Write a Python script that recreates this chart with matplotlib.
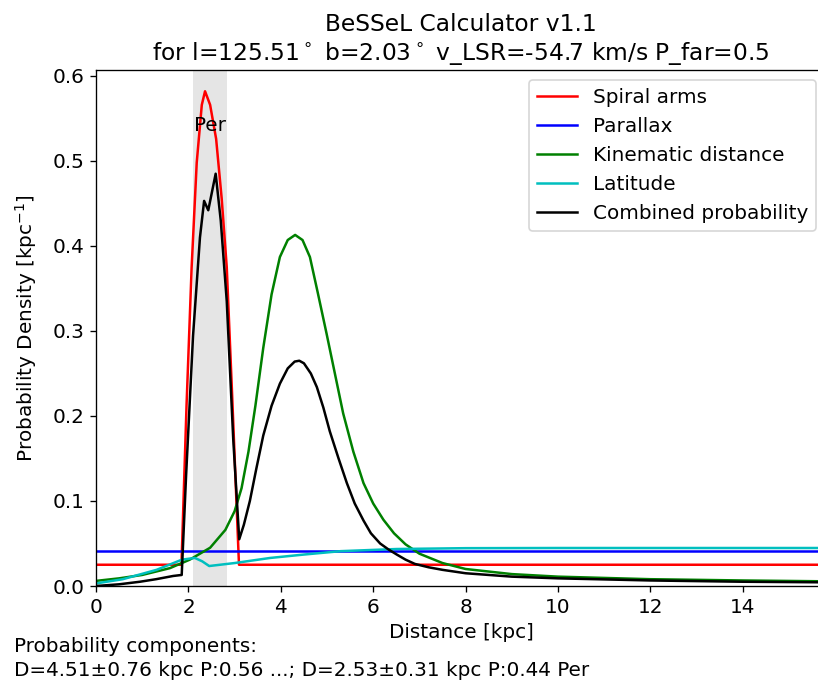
import matplotlib
matplotlib.use('Agg')
import matplotlib.pyplot as plt

plt.rcParams['font.size'] = 12

# Distancias [kpc] y densidades
arm_x = [0.0, 1.85, 1.96, 2.07, 2.18, 2.29, 2.36, 2.47, 2.60, 2.72, 2.83, 2.94, 3.045, 3.095, 15.8]
arm_y = [0.025, 0.025, 0.213, 0.375, 0.498, 0.566, 0.582, 0.566, 0.526, 0.456, 0.375, 0.233, 0.092, 0.025, 0.025]

plx_x = [0.0, 15.8]
plx_y = [0.0412, 0.0412]

kin_x = [0.0, 0.5, 1.0, 1.6, 2.03, 2.47, 2.8, 3.0, 3.15, 3.3, 3.45, 3.62, 3.8, 3.98, 4.15,
         4.31, 4.47, 4.63, 4.8, 4.99, 5.17, 5.35, 5.57, 5.79, 6.0, 6.22, 6.45, 6.7, 7.0, 7.5,
         8.0, 9.0, 10.0, 12.0, 14.0, 15.8]
kin_y = [0.006, 0.009, 0.013, 0.021, 0.031, 0.045, 0.066, 0.088, 0.115, 0.158, 0.212, 0.28,
         0.343, 0.387, 0.407, 0.413, 0.407, 0.387, 0.345, 0.297, 0.25, 0.203, 0.158, 0.121, 0.097,
         0.078, 0.062, 0.049, 0.038, 0.027, 0.020, 0.014, 0.011, 0.008, 0.0065, 0.0055]

lat_x = [0.0, 0.58, 1.31, 1.86, 2.14, 2.30, 2.45, 3.0, 3.77, 4.5, 5.3, 6.5, 8.0, 10.0, 15.8]
lat_y = [0.003, 0.008, 0.019, 0.031, 0.033, 0.029, 0.0235, 0.027, 0.033, 0.037, 0.041, 0.0435, 0.0445, 0.0447, 0.0447]

comb_x = [0.0, 0.5, 0.95, 1.3, 1.67, 1.855, 1.95, 2.1, 2.25, 2.34, 2.43, 2.59, 2.7, 2.83, 2.97, 3.1,
          3.2, 3.33, 3.47, 3.62, 3.8, 3.98, 4.15, 4.3, 4.4, 4.5, 4.65, 4.78, 4.92, 5.06, 5.25,
          5.43, 5.6, 5.79, 5.95, 6.15, 6.33, 6.51, 6.7, 6.9, 7.2, 7.5, 8.0, 9.0, 10.0, 12.0, 14.0, 15.8]
comb_y = [0.0, 0.002, 0.005, 0.008, 0.0118, 0.013, 0.13, 0.294, 0.41, 0.453, 0.442, 0.485, 0.43,
          0.335, 0.173, 0.055, 0.072, 0.1, 0.138, 0.177, 0.212, 0.238, 0.256, 0.264, 0.265, 0.262,
          0.25, 0.234, 0.21, 0.182, 0.15, 0.121, 0.097, 0.077, 0.062, 0.05, 0.043, 0.037, 0.031,
          0.026, 0.022, 0.019, 0.015, 0.011, 0.009, 0.0065, 0.005, 0.0043]

arm_name = 'Per'
arm_range = (2.10, 2.84)

# Crear la figura y los ejes
fig = plt.figure(figsize=(818 / 120, 686 / 120), dpi=120)
ax = fig.add_axes([96 / 818, 100 / 686, 730 / 818, 516 / 686])

ax.axvspan(arm_range[0], arm_range[1], color='0.5', alpha=0.2, lw=0)
ax.text(sum(arm_range) / 2, 0.542, arm_name, ha='center', va='center')

ax.plot(arm_x, arm_y, color='r', label='Spiral arms')
ax.plot(plx_x, plx_y, color='b', label='Parallax')
ax.plot(kin_x, kin_y, color='g', label='Kinematic distance')
ax.plot(lat_x, lat_y, color='c', label='Latitude')
ax.plot(comb_x, comb_y, color='k', label='Combined probability')

ax.set_title('BeSSeL Calculator v1.1\nfor l=125.51$^\\circ$ b=2.03$^\\circ$ v_LSR=-54.7 km/s P_far=0.5',
             fontsize=14)
ax.set_xlabel('Distance [kpc]')
ax.set_ylabel('Probability Density [kpc$^{-1}$]', labelpad=8)
ax.set_xlim(0, 15.8)
ax.set_ylim(0, 0.607)
ax.legend(loc='upper right')

# Texto inferior con los componentes
fig.text(14 / 818, 1 - 647 / 686, 'Probability components:', ha='left', va='center')
fig.text(14 / 818, 1 - 671 / 686, 'D=4.51±0.76 kpc P:0.56 ...; D=2.53±0.31 kpc P:0.44 Per',
         ha='left', va='center')

fig.savefig('out.png', dpi=120)
